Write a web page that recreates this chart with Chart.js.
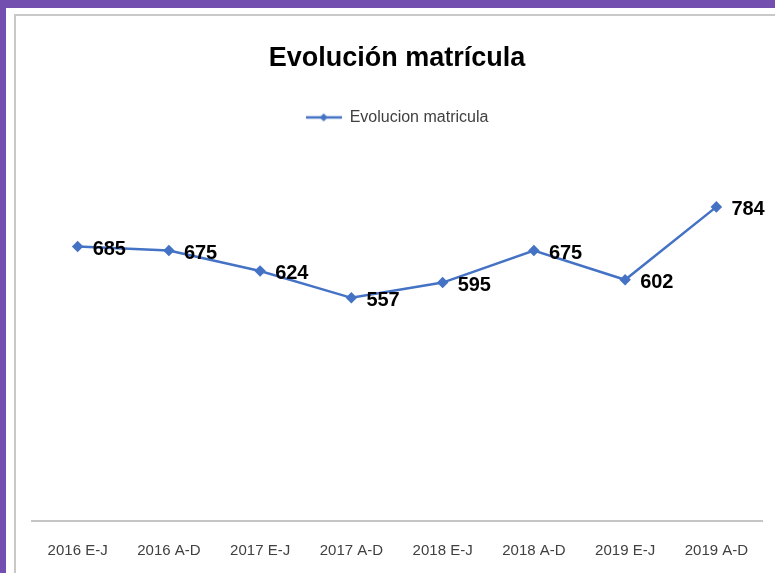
<!DOCTYPE html>
<html lang="es">
<head>
    <meta charset="UTF-8">
    <title>Evolución matrícula</title>
    <script src="https://cdn.jsdelivr.net/npm/chart.js"></script>
    <style>
        html, body { margin: 0; padding: 0; }
        body { width: 775px; height: 573px; background: #7350b0; position: relative; overflow: hidden; }
        #sheet { position: absolute; left: 6px; top: 8px; right: 0; bottom: 0; background: #fff; overflow: hidden; }
        #frame { position: absolute; left: 8px; top: 6px; width: 770px; height: 580px;
                 border-left: 2px solid #c8c8c8; border-top: 2px solid #c8c8c8; background: #fff; }
        #chartBox { position: absolute; left: 0; top: 0; width: 760px; height: 566px; }
    </style>
</head>
<body>
    <div id="sheet">
        <div id="frame">
            <div id="chartBox"><canvas id="matricula"></canvas></div>
        </div>
    </div>

    <script>
        // periods and enrolment counts
        const periodos = ['2016 E-J', '2016 A-D', '2017 E-J', '2017 A-D', '2018 E-J', '2018 A-D', '2019 E-J', '2019 A-D'];
        const matricula = [685, 675, 624, 557, 595, 675, 602, 784];

        const azul = '#4472c4';
        const fuente = '"Liberation Sans", Arial, sans-serif';

        // little line+diamond swatch for the legend
        function legendSwatch() {
            const c = document.createElement('canvas');
            c.width = 36; c.height = 12;
            const g = c.getContext('2d');
            g.strokeStyle = azul; g.lineWidth = 2.5;
            g.beginPath(); g.moveTo(0, 6); g.lineTo(36, 6); g.stroke();
            g.fillStyle = azul;
            g.beginPath(); g.moveTo(18, 2); g.lineTo(22, 6); g.lineTo(18, 10); g.lineTo(14, 6); g.closePath(); g.fill();
            return c;
        }

        // extra room between the legend and the plot
        const legendGap = {
            id: 'legendGap',
            beforeInit(chart) {
                const fit = chart.legend.fit;
                chart.legend.fit = function () {
                    fit.call(this);
                    this.height += 25;
                };
            }
        };

        // value labels to the right of each point
        const etiquetas = {
            id: 'etiquetas',
            afterDatasetsDraw(chart) {
                const ctx = chart.ctx;
                const meta = chart.getDatasetMeta(0);
                ctx.save();
                ctx.font = 'bold 20px ' + fuente;
                ctx.fillStyle = '#000';
                ctx.textAlign = 'left';
                ctx.textBaseline = 'middle';
                meta.data.forEach((pt, i) => {
                    ctx.fillText(String(chart.data.datasets[0].data[i]), pt.x + 15, pt.y + 3);
                });
                ctx.restore();
            }
        };

        new Chart(document.getElementById('matricula'), {
            type: 'line',
            data: {
                labels: periodos,
                datasets: [{
                    label: 'Evolucion matricula',
                    data: matricula,
                    borderColor: azul,
                    backgroundColor: azul,
                    borderWidth: 2.5,
                    pointStyle: 'rectRot',
                    pointRadius: 4,
                    pointHoverRadius: 4,
                    tension: 0
                }]
            },
            options: {
                responsive: true,
                maintainAspectRatio: false,
                animation: false,
                layout: { padding: { left: 16, right: 14, bottom: 1, top: 0 } },
                plugins: {
                    title: {
                        display: true,
                        text: 'Evolución matrícula',
                        color: '#000',
                        font: { family: fuente, size: 27, weight: 'bold' },
                        padding: { top: 26, bottom: 25 }
                    },
                    legend: {
                        display: true,
                        labels: {
                            color: '#404040',
                            font: { family: fuente, size: 16 },
                            usePointStyle: true,
                            pointStyleWidth: 36,
                            boxHeight: 12,
                            generateLabels: (chart) => [{
                                text: chart.data.datasets[0].label,
                                pointStyle: legendSwatch(),
                                fontColor: '#404040',
                                datasetIndex: 0
                            }]
                        }
                    },
                    tooltip: { enabled: false }
                },
                scales: {
                    x: {
                        offset: true,
                        grid: { display: false, drawTicks: false },
                        border: { display: true, color: '#c4c4c4', width: 2 },
                        ticks: { color: '#404040', font: { family: fuente, size: 15 }, padding: 21, maxRotation: 0 }
                    },
                    y: {
                        display: false,
                        min: 0,
                        max: 900
                    }
                }
            },
            plugins: [legendGap, etiquetas]
        });
    </script>
</body>
</html>
